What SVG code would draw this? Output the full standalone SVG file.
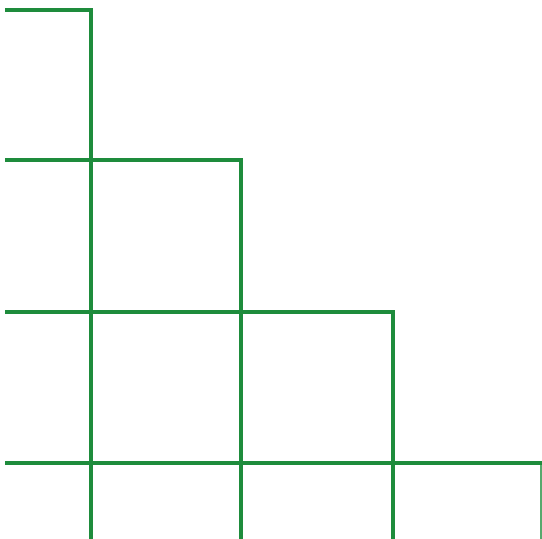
<svg xmlns="http://www.w3.org/2000/svg" width="542" height="539" viewBox="0 0 542 539">
<style>.l{fill:none;stroke:#1e8c3c;stroke-width:4;stroke-linejoin:miter}</style>
<rect width="542" height="539" fill="#fff"/>
<g id="steps">
<polyline class="l" points="5,10 91,10 91,539"/>
<polyline class="l" points="5,160 241,160 241,539"/>
<polyline class="l" points="5,312 393,312 393,539"/>
<polyline class="l" points="5,463 542,463"/>
<line x1="541" y1="463" x2="541" y2="539" stroke="#1e8c3c" stroke-width="1.5"/>
</g>
</svg>
